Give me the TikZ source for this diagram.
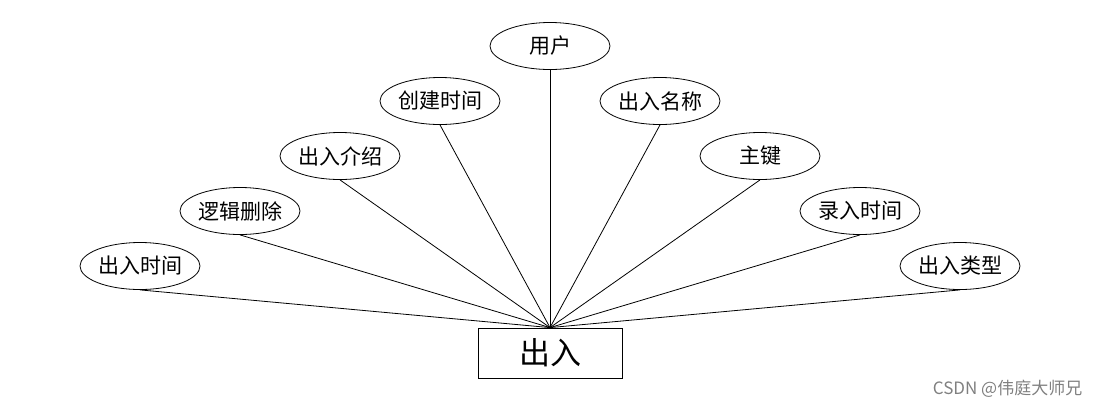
\documentclass[tikz,border=0pt]{standalone}
\usepackage{fontspec}
\setmainfont{Noto Sans CJK SC}
\usetikzlibrary{shapes.geometric}

\begin{document}
\begin{tikzpicture}[x=1pt,y=-1pt,line width=0.8pt]
        \tikzset{attr/.style={ellipse, draw, minimum width=120pt, minimum height=47pt, inner sep=0pt, font=\fontsize{21}{21}\selectfont}}
        \useasboundingbox (0,0) rectangle (1100,408);
        % Entity:
        % A plain box, the attributes all meet at its top:
        \node [draw, minimum width=144pt, minimum height=50pt, font=\fontsize{31}{31}\selectfont] (entity) at (550,353) {出入};

        % Attributes:
        % One ellipse each, joined to the entity by a line from its bottom
        \foreach \name/\x/\y/\txt in {yonghu/550/46/用户, chuangjian/440/101/创建时间, mingcheng/660/101/出入名称,
            jieshao/340/156/出入介绍, zhujian/760/156/主键, shanchu/240/211/逻辑删除,
            luru/860/211/录入时间, shijian/140/266/出入时间, leixing/960/266/出入类型}{%
            \node [attr] (\name) at (\x,\y) {\txt};
            \draw (\name.south) -- (entity.north);
        }

        % Watermark:
        \node [gray, font=\fontsize{17}{17}\selectfont, anchor=east] (mark) at (1086,389) {CSDN @伟庭大师兄};
    \end{tikzpicture}
\end{document}
